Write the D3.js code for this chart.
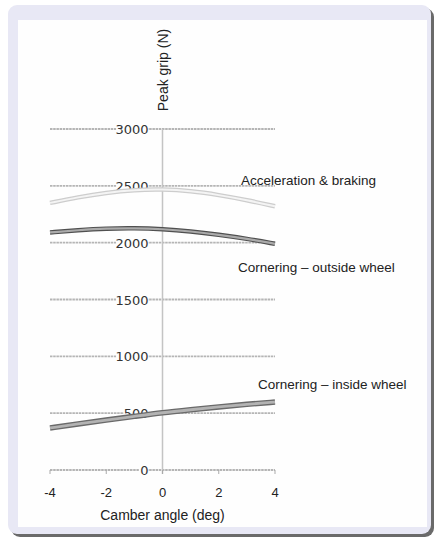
<!DOCTYPE html>
<html>
<head>
<meta charset="utf-8">
<script src="https://cdn.jsdelivr.net/npm/d3@7"></script>
<style>
  body { margin: 0; background: #fff; }
  text { font-family: "Liberation Sans", Arial, sans-serif; fill: #222; }
</style>
</head>
<body>
<svg id="chart" width="441" height="540"></svg>
<script>
let camber = [-4, -3, -2, -1, 0, 1, 2, 3, 4];
let accelBraking = [2350, 2400, 2440, 2465, 2470, 2455, 2420, 2375, 2320];
let outsideWheel = [2090, 2110, 2125, 2128, 2120, 2100, 2070, 2035, 1990];
let insideWheel = [370, 405, 440, 472, 505, 530, 555, 578, 598];
let yTicks = [0, 500, 1000, 1500, 2000, 2500, 3000];
let xTicks = [-4, -2, 0, 2, 4];

let svg = d3.select("#chart");

// card background + shadow
svg.append("rect").attr("x", 11).attr("y", 8).attr("width", 423).attr("height", 529)
    .attr("rx", 9).attr("fill", "#6a6a6a");
svg.append("rect").attr("x", 8).attr("y", 5).attr("width", 423).attr("height", 529)
    .attr("rx", 9).attr("fill", "#e8e8f5");
svg.append("rect").attr("x", 18).attr("y", 20).attr("width", 409).attr("height", 507)
    .attr("fill", "#fefefe");

let x = d3.scaleLinear().domain([-4, 4]).range([50, 275]);
let y = d3.scaleLinear().domain([0, 3000]).range([470, 129]);

// horizontal gridlines
svg.append("g").selectAll("line").data(yTicks).enter().append("line")
    .attr("x1", x(-4)).attr("x2", x(4))
    .attr("y1", d => y(d)).attr("y2", d => y(d))
    .attr("stroke", "#b5b5b5").attr("stroke-width", 1.8)
    .attr("stroke-dasharray", "2.5,0.7");

// vertical axis through 0
svg.append("line")
    .attr("x1", x(0)).attr("x2", x(0)).attr("y1", y(3000)).attr("y2", y(0) + 4)
    .attr("stroke", "#c4c4c4").attr("stroke-width", 1.5);

// x ticks
svg.append("g").selectAll("line").data(xTicks).enter().append("line")
    .attr("x1", d => x(d)).attr("x2", d => x(d))
    .attr("y1", y(0)).attr("y2", y(0) + 4)
    .attr("stroke", "#aaa").attr("stroke-width", 1);

// y tick labels with white backdrop
let yl = svg.append("g").selectAll("g").data(yTicks).enter().append("g");
yl.append("rect")
    .attr("x", d => x(0) - 16 - String(d).length * 7.6)
    .attr("y", d => y(d) - 7)
    .attr("width", d => String(d).length * 7.6 + 2)
    .attr("height", 14).attr("fill", "#fefefe");
yl.append("text")
    .attr("x", x(0) - 14).attr("y", d => y(d) + 5)
    .attr("text-anchor", "end")
    .style("font-family", "'DejaVu Sans', sans-serif")
    .style("font-size", "13px").style("fill", "#333")
    .text(d => d);

// x tick labels
svg.append("g").selectAll("text").data(xTicks).enter().append("text")
    .attr("x", d => x(d)).attr("y", 497)
    .attr("text-anchor", "middle")
    .style("font-size", "13px")
    .text(d => d);

// axis titles
svg.append("text")
    .attr("transform", `translate(${x(0) + 5},${70}) rotate(-90)`)
    .attr("text-anchor", "middle")
    .style("font-size", "14px")
    .text("Peak grip (N)");

svg.append("text")
    .attr("x", x(0)).attr("y", 520)
    .attr("text-anchor", "middle")
    .style("font-size", "14px")
    .text("Camber angle (deg)");

// curves
let line = d3.line().x((d, i) => x(camber[i])).y(d => y(d)).curve(d3.curveBasis);

function drawCurve(values, outer, inner, wOuter, wInner) {
    svg.append("path").datum(values).attr("d", line)
        .attr("fill", "none").attr("stroke", outer).attr("stroke-width", wOuter)
        .attr("stroke-linecap", "butt");
    svg.append("path").datum(values).attr("d", line)
        .attr("fill", "none").attr("stroke", inner).attr("stroke-width", wInner)
        .attr("stroke-linecap", "butt");
}

drawCurve(accelBraking, "#cdcdcd", "#f4f4f4", 4.5, 2);
drawCurve(outsideWheel, "#505050", "#ababab", 4.5, 2.2);
drawCurve(insideWheel, "#6a6a6a", "#b3b3b3", 5.5, 2.8);

// series labels
let labels = [
    {text: "Acceleration & braking", x: 241, y: 185},
    {text: "Cornering \u2013 outside wheel", x: 238, y: 272},
    {text: "Cornering \u2013 inside wheel", x: 258, y: 389}
];
svg.append("g").selectAll("text").data(labels).enter().append("text")
    .attr("x", d => d.x).attr("y", d => d.y)
    .style("font-size", "13.5px")
    .text(d => d.text);
</script>
</body>
</html>
